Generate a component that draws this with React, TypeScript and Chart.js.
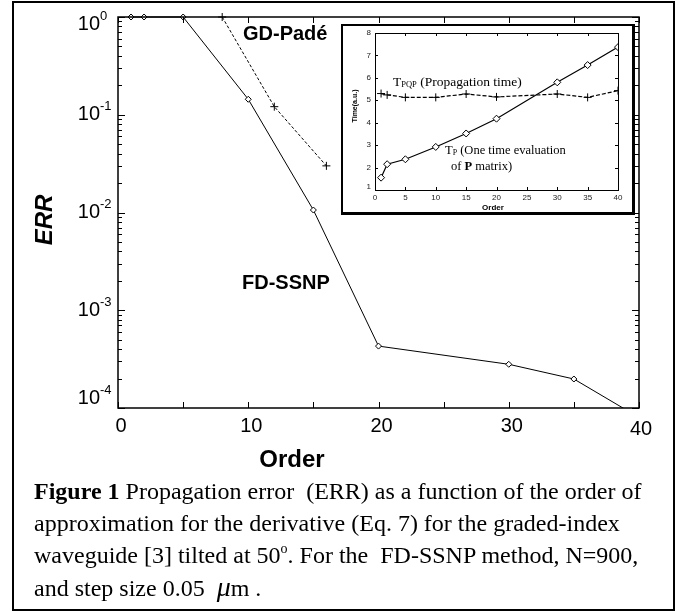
import React, { useEffect, useRef } from 'react';
import { Chart, registerables } from 'chart.js';

Chart.register(...registerables);

// ---- Main chart data ----
const FD_ORDER = [1, 2, 5, 10, 15, 20, 30, 35, 40];
const FD_ERR = [1, 1, 1, 0.144, 0.0106, 4.3e-4, 2.8e-4, 1.98e-4, 8.0e-5];
const GD_ORDER = [8, 12, 16];
const GD_ERR = [1, 0.121, 0.03];
const X_TICK_VALUES = [0, 10, 20, 30, 40];
const X_TICK_LABELS = ['0', '10', '20', '30', '40'];
const Y_DECADES = [1, 0.1, 0.01, 0.001, 0.0001];
const Y_EXPONENTS = ['0', '-1', '-2', '-3', '-4'];

// ---- Inset data ----
const INSET_ORDER = [1, 2, 5, 10, 15, 20, 30, 35, 40];
const T_P = [1.55, 2.15, 2.37, 2.92, 3.52, 4.18, 5.8, 6.57, 7.37];
const T_PQP = [5.3, 5.24, 5.13, 5.13, 5.28, 5.15, 5.28, 5.13, 5.43];
const INSET_X_TICKS = [0, 5, 10, 15, 20, 25, 30, 35, 40];
const INSET_Y_TICKS = [1, 2, 3, 4, 5, 6, 7, 8];

const SANS = '"Liberation Sans", Arial, Helvetica, sans-serif';
const SERIF = '"Liberation Serif", "Times New Roman", serif';

function seg(ctx: CanvasRenderingContext2D, x1: number, y1: number, x2: number, y2: number) {
  ctx.beginPath();
  ctx.moveTo(x1, y1);
  ctx.lineTo(x2, y2);
  ctx.stroke();
}

type Part = { text: string; font: string; dy?: number };
function drawRich(ctx: CanvasRenderingContext2D, x: number, y: number, parts: Part[]) {
  let cx = x;
  ctx.textAlign = 'left';
  ctx.textBaseline = 'alphabetic';
  for (const p of parts) {
    ctx.font = p.font;
    ctx.fillText(p.text, cx, y + (p.dy || 0));
    cx += ctx.measureText(p.text).width;
  }
}

const mainAxesPlugin = {
  id: 'mainAxes',
  afterDraw(chart: any) {
    const { ctx, chartArea: a, scales } = chart;
    const xs = scales.x;
    const ys = scales.y;
    ctx.save();
    ctx.strokeStyle = '#000';
    ctx.fillStyle = '#000';
    ctx.lineWidth = 1.5;
    ctx.strokeRect(a.left, a.top, a.right - a.left, a.bottom - a.top);
    ctx.lineWidth = 1;
    for (let v = 0; v <= 40; v += 5) {
      const px = Math.round(xs.getPixelForValue(v)) + 0.5;
      seg(ctx, px, a.bottom, px, a.bottom - 6);
      seg(ctx, px, a.top, px, a.top + 6);
    }
    for (let e = -4; e <= 0; e++) {
      const base = Math.pow(10, e);
      const py = Math.round(ys.getPixelForValue(base)) + 0.5;
      seg(ctx, a.left, py, a.left + 7, py);
      seg(ctx, a.right, py, a.right - 7, py);
      if (e < 0) {
        for (let m = 2; m <= 9; m++) {
          const pm = Math.round(ys.getPixelForValue(base * m)) + 0.5;
          seg(ctx, a.left, pm, a.left + 4, pm);
          seg(ctx, a.right, pm, a.right - 4, pm);
        }
      }
    }
    ctx.font = '20px ' + SANS;
    ctx.textAlign = 'center';
    ctx.textBaseline = 'middle';
    X_TICK_VALUES.forEach((v, i) => {
      const px = xs.getPixelForValue(v);
      const last = i === X_TICK_VALUES.length - 1;
      ctx.fillText(X_TICK_LABELS[i], px + (last ? 2 : 3), a.bottom + (last ? 21 : 18));
    });
    Y_DECADES.forEach((v, i) => {
      let py = ys.getPixelForValue(v);
      py = Math.min(Math.max(py, a.top + 7), a.bottom - 10);
      ctx.font = '20px ' + SANS;
      ctx.textAlign = 'right';
      ctx.textBaseline = 'middle';
      ctx.fillText('10', 100, py);
      ctx.font = '13px ' + SANS;
      ctx.textAlign = 'left';
      ctx.fillText(Y_EXPONENTS[i], 100, py - 8);
    });
    ctx.font = 'bold 24px ' + SANS;
    ctx.textAlign = 'center';
    ctx.textBaseline = 'middle';
    ctx.fillText('Order', 292, 460);
    ctx.save();
    ctx.translate(45, 220);
    ctx.rotate(-Math.PI / 2);
    ctx.font = 'italic bold 24px ' + SANS;
    ctx.fillText('ERR', 0, 0);
    ctx.restore();
    ctx.font = 'bold 20px ' + SANS;
    ctx.textAlign = 'left';
    ctx.textBaseline = 'middle';
    ctx.fillText('GD-Padé', 243, 34);
    ctx.fillText('FD-SSNP', 242, 283);
    ctx.restore();
  },
};

const insetAxesPlugin = {
  id: 'insetAxes',
  afterDraw(chart: any) {
    const { ctx, chartArea: a, scales } = chart;
    const xs = scales.x;
    const ys = scales.y;
    ctx.save();
    ctx.strokeStyle = '#000';
    ctx.fillStyle = '#000';
    ctx.lineWidth = 1;
    ctx.strokeRect(a.left + 0.5, a.top + 0.5, a.right - a.left, a.bottom - a.top);
    INSET_X_TICKS.forEach((v) => {
      const px = Math.round(xs.getPixelForValue(v)) + 0.5;
      seg(ctx, px, a.bottom, px, a.bottom - 3);
      seg(ctx, px, a.top, px, a.top + 3);
    });
    INSET_Y_TICKS.forEach((v) => {
      const py = Math.round(ys.getPixelForValue(v)) + 0.5;
      seg(ctx, a.left, py, a.left + 3, py);
      seg(ctx, a.right, py, a.right - 3, py);
    });
    ctx.fillStyle = '#222';
    ctx.font = '8px ' + SANS;
    ctx.textAlign = 'center';
    ctx.textBaseline = 'middle';
    INSET_X_TICKS.forEach((v) => {
      ctx.fillText(String(v), xs.getPixelForValue(v), a.bottom + 8);
    });
    ctx.textAlign = 'right';
    INSET_Y_TICKS.forEach((v) => {
      const py = ys.getPixelForValue(v);
      ctx.fillText(String(v), a.left - 4, v === 1 ? py - 3 : py);
    });
    ctx.fillStyle = '#000';
    ctx.font = 'bold 8px ' + SANS;
    ctx.textAlign = 'center';
    ctx.fillText('Order', 150, 182);
    ctx.save();
    ctx.translate(12, 80);
    ctx.rotate(-Math.PI / 2);
    ctx.font = 'bold 7px ' + SANS;
    ctx.fillText('Time(a.u.)', 0, 0);
    ctx.restore();
    drawRich(ctx, 50, 60, [
      { text: 'T', font: '13.5px ' + SERIF },
      { text: 'PQP', font: '8.5px ' + SERIF, dy: 1 },
      { text: ' (Propagation time)', font: '13.5px ' + SERIF },
    ]);
    drawRich(ctx, 102, 128, [
      { text: 'T', font: '12.5px ' + SERIF },
      { text: 'P', font: '8px ' + SERIF, dy: 1 },
      { text: ' (One time evaluation', font: '12.5px ' + SERIF },
    ]);
    drawRich(ctx, 108, 144, [
      { text: 'of ', font: '12.5px ' + SERIF },
      { text: 'P', font: 'bold 12.5px ' + SERIF },
      { text: ' matrix)', font: '12.5px ' + SERIF },
    ]);
    ctx.restore();
  },
};

export default function App() {
  const mainRef = useRef<HTMLCanvasElement>(null);
  const insetRef = useRef<HTMLCanvasElement>(null);

  useEffect(() => {
    const main = new Chart(mainRef.current as HTMLCanvasElement, {
      type: 'line',
      data: {
        datasets: [
          {
            label: 'FD-SSNP',
            data: FD_ORDER.map((x, i) => ({ x, y: FD_ERR[i] })),
            borderColor: '#000',
            borderWidth: 1,
            pointStyle: 'rectRot',
            pointRadius: 3,
            pointBackgroundColor: '#fff',
            pointBorderColor: '#000',
            pointBorderWidth: 1,
            tension: 0,
            clip: { left: 6, top: 6, right: 0, bottom: 0 } as any,
          },
          {
            label: 'GD-Padé',
            data: GD_ORDER.map((x, i) => ({ x, y: GD_ERR[i] })),
            borderColor: '#000',
            borderWidth: 1,
            borderDash: [3, 2],
            pointStyle: 'cross',
            pointRadius: 4,
            pointBorderColor: '#000',
            pointBorderWidth: 1,
            tension: 0,
            clip: { left: 6, top: 6, right: 0, bottom: 0 } as any,
          },
        ],
      },
      options: {
        responsive: false,
        animation: false,
        events: [],
        layout: { padding: { left: 118, top: 17, right: 45, bottom: 203 } },
        scales: {
          x: { type: 'linear', min: 0, max: 40, display: false },
          y: { type: 'logarithmic', min: 1e-4, max: 1, display: false },
        },
        plugins: { legend: { display: false }, tooltip: { enabled: false } },
      },
      plugins: [mainAxesPlugin],
    });

    const inset = new Chart(insetRef.current as HTMLCanvasElement, {
      type: 'line',
      data: {
        datasets: [
          {
            label: 'T_P',
            data: INSET_ORDER.map((x, i) => ({ x, y: T_P[i] })),
            borderColor: '#000',
            borderWidth: 1.2,
            pointStyle: 'rectRot',
            pointRadius: 3.5,
            pointBackgroundColor: '#fff',
            pointBorderColor: '#000',
            pointBorderWidth: 1,
            tension: 0,
          },
          {
            label: 'T_PQP',
            data: INSET_ORDER.map((x, i) => ({ x, y: T_PQP[i] })),
            borderColor: '#000',
            borderWidth: 1.2,
            borderDash: [4, 2],
            pointStyle: 'cross',
            pointRadius: 4,
            pointBorderColor: '#000',
            pointBorderWidth: 1,
            tension: 0,
          },
        ],
      },
      options: {
        responsive: false,
        animation: false,
        events: [],
        layout: { padding: { left: 32, top: 7, right: 14, bottom: 22 } },
        scales: {
          x: { type: 'linear', min: 0, max: 40, display: false },
          y: { type: 'linear', min: 1, max: 8, display: false },
        },
        plugins: { legend: { display: false }, tooltip: { enabled: false } },
      },
      plugins: [insetAxesPlugin],
    });

    return () => {
      main.destroy();
      inset.destroy();
    };
  }, []);

  const supStyle: React.CSSProperties = { fontSize: 14, position: 'relative', top: -10, lineHeight: 0 };

  return (
    <div style={{ position: 'absolute', left: 0, top: 0, width: 684, height: 611, background: '#fff', overflow: 'hidden' }}>
      <canvas ref={mainRef} width={684} height={611} style={{ position: 'absolute', left: 0, top: 0 }} />
      <div
        style={{
          position: 'absolute',
          left: 12,
          top: 1,
          width: 663,
          height: 610,
          boxSizing: 'border-box',
          border: '2px solid #000',
        }}
      />
      <div
        style={{
          position: 'absolute',
          left: 341,
          top: 24,
          width: 294,
          height: 191,
          boxSizing: 'border-box',
          borderStyle: 'solid',
          borderColor: '#000',
          borderWidth: '2px 3px 3px 2px',
          background: '#fff',
        }}
      >
        <canvas ref={insetRef} width={289} height={186} style={{ display: 'block' }} />
      </div>
      <div
        style={{
          position: 'absolute',
          left: 34,
          top: 475,
          font: '24px ' + SERIF,
          lineHeight: '32px',
          whiteSpace: 'nowrap',
          color: '#000',
        }}
      >
        <b>Figure 1</b> Propagation error&nbsp; (ERR) as a function of the order of
        <br />
        approximation for the derivative (Eq. 7) for the graded-index
        <br />
        waveguide [3] tilted at 50<span style={supStyle}>o</span>. For the&nbsp; FD-SSNP method, N=900,
        <br />
        and step size 0.05&nbsp; <i style={{ fontSize: 28 }}>μ</i>m .
      </div>
    </div>
  );
}
